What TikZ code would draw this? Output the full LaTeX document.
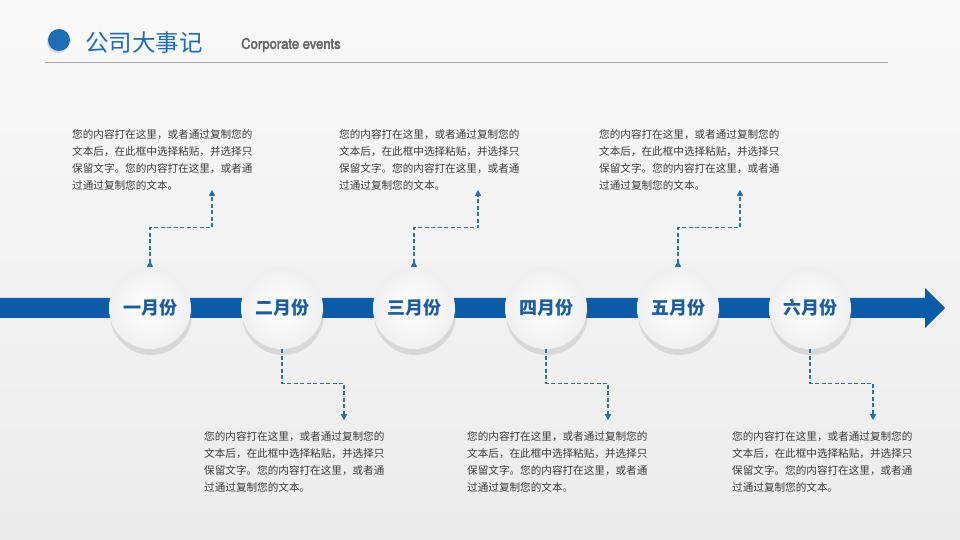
\documentclass[tikz,border=0pt]{standalone}
\usepackage{fontspec}
\setmainfont{Noto Sans CJK SC}
\newfontfamily\condfont[FakeStretch=0.9, FakeBold=3]{TeX Gyre Heros}
\usepackage{xcolor}
\usetikzlibrary{arrows.meta}
\usetikzlibrary{shadows}
\usetikzlibrary{positioning}
\usetikzlibrary{calc}
\definecolor{bandblue}{HTML}{0B5CA8}
\definecolor{titleblue}{HTML}{1E6CB6}
\definecolor{labelblue}{HTML}{1A5DA3}
\definecolor{linkblue}{HTML}{2B6FB3}
\definecolor{notegray}{HTML}{3A3A3A}
\newcommand{\notetext}{您的内容打在这里，或者通过复制您的\\文本后，在此框中选择粘贴，并选择只\\保留文字。您的内容打在这里，或者通\\过通过复制您的文本。}
\tikzset{
  % Common styles for the timeline
  >={Triangle[length=6pt,width=6pt]},
  month/.style={circle, minimum size=82pt, inner sep=0pt, inner color=white, outer color=gray!12,
    drop shadow={opacity=0.22, shadow xshift=1pt, shadow yshift=-6pt},
    font=\fontsize{18}{18}\selectfont\bfseries, text=labelblue},
  note/.style={anchor=north west, inner sep=0pt, align=left, font=\fontsize{10.6}{17}\selectfont, text=notegray},
  link/.style={draw=linkblue, line width=1.3pt, dash pattern=on 4pt off 2.5pt, ->}
}

\begin{document}
\begin{tikzpicture}[x=1pt, y=1pt]
    % Background
    \useasboundingbox (0,0) rectangle (960,540);
    \shade[top color=gray!5, bottom color=gray!15] (0,0) rectangle (960,540);

    % Title
    \node[circle, fill=titleblue, minimum size=22pt, inner sep=0pt,
      drop shadow={opacity=0.3, shadow xshift=-1pt, shadow yshift=-2pt}] (dot) at (59,500) {};
    \node[anchor=west, inner sep=0pt, text=titleblue, font=\fontsize{23.5}{23.5}\selectfont] (title) at (85,497) {公司大事记};
    \node[anchor=west, inner sep=0pt, text=gray!80!black, font=\condfont\fontsize{14.5}{14.5}\selectfont] (subtitle) at (241,495) {Corporate events};
    \draw[gray!70] (45,478) -- (888,478);

    % Band with arrow
    \fill[bandblue] (0,242) -- (925,242) -- (925,252) -- (945,232) -- (925,212) -- (925,222) -- (0,222) -- cycle;

    % Place nodes
    \node[month] (m1) at (150,232) {一月份};
    \node[month, right=49.6pt of m1] (m2) {二月份};
    \node[month, right=49.6pt of m2] (m3) {三月份};
    \node[month, right=49.6pt of m3] (m4) {四月份};
    \node[month, right=49.6pt of m4] (m5) {五月份};
    \node[month, right=49.6pt of m5] (m6) {六月份};

    % Arrow ends
    \coordinate (e1) at ($(m1.north)+(62,77)$);
    \coordinate (e3) at ($(m3.north)+(64,77)$);
    \coordinate (e5) at ($(m5.north)+(62,77)$);
    \coordinate (e2) at ($(m2.south)+(62,-71)$);
    \coordinate (e4) at ($(m4.south)+(62,-71)$);
    \coordinate (e6) at ($(m6.south)+(63,-71)$);

    % Notes
    \node[note] (n1) at ($(m1)+(-78,179)$) {\notetext};
    \node[note] (n3) at ($(m3)+(-75,179)$) {\notetext};
    \node[note] (n5) at ($(m5)+(-79,179)$) {\notetext};
    \node[note] (n2) at ($(m2)+(-78,-123)$) {\notetext};
    \node[note] (n4) at ($(m4)+(-79,-123)$) {\notetext};
    \node[note] (n6) at ($(m6)+(-78,-123)$) {\notetext};

    % Draw edges
    \draw[link, {Triangle[reversed,length=6pt,width=6pt]}->] (m1.north) -- ++(0,39) -| (e1);
    \draw[link, {Triangle[reversed,length=6pt,width=6pt]}->] (m3.north) -- ++(0,39) -| (e3);
    \draw[link, {Triangle[reversed,length=6pt,width=6pt]}->] (m5.north) -- ++(0,39) -| (e5);
    \draw[link] (m2.south) -- ++(0,-34) -| (e2);
    \draw[link] (m4.south) -- ++(0,-34) -| (e4);
    \draw[link] (m6.south) -- ++(0,-34) -| (e6);
\end{tikzpicture}
\end{document}
